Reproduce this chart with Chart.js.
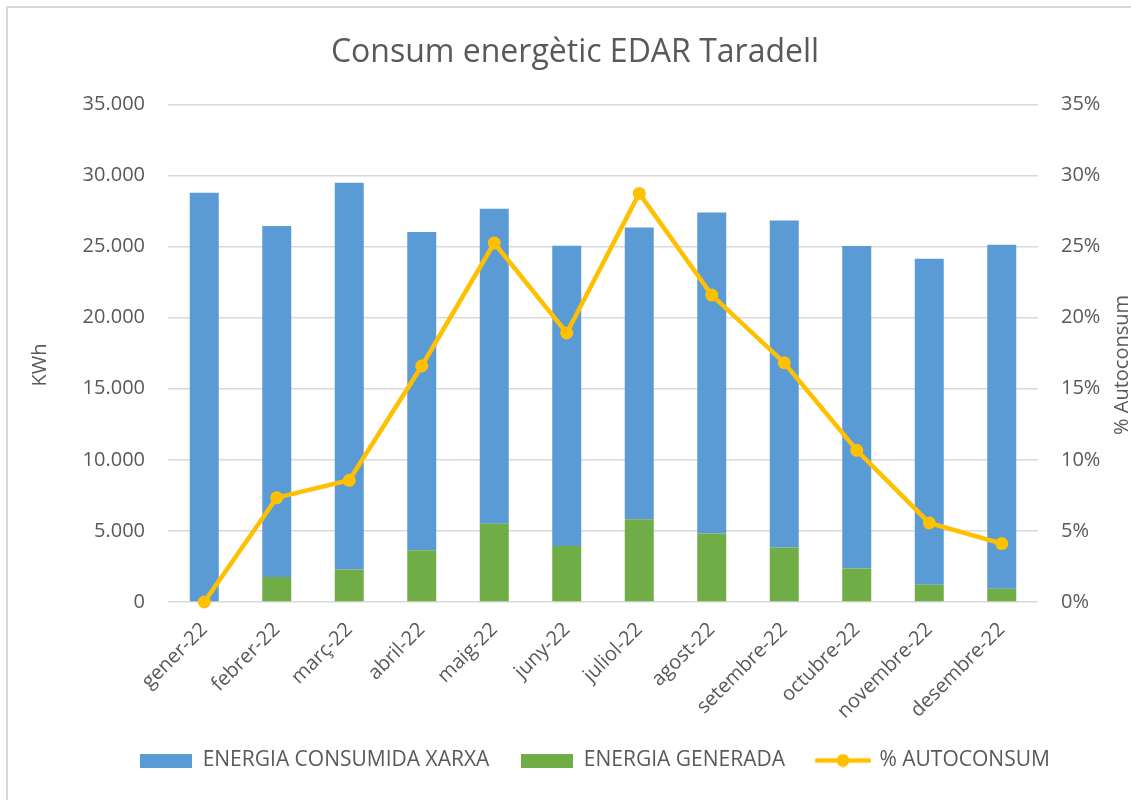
<!DOCTYPE html>
<html>
<head>
<meta charset="utf-8">
<title>Consum energètic EDAR Taradell</title>
<script src="https://cdn.jsdelivr.net/npm/chart.js@4"></script>
<style>
  html, body { margin: 0; padding: 0; background: #fff; overflow: hidden; }
  .frame { position: absolute; left: 6px; top: 6px; width: 1200px; height: 900px; border: 2px solid #d9d9d9; }
  .wrap { position: absolute; left: 0; top: 0; width: 1131px; height: 800px; }
</style>
</head>
<body>
<div class="frame"></div>
<div class="wrap"><canvas id="chart" width="1131" height="800"></canvas></div>
<script>
const months = ['gener-22', 'febrer-22', 'març-22', 'abril-22', 'maig-22', 'juny-22',
  'juliol-22', 'agost-22', 'setembre-22', 'octubre-22', 'novembre-22', 'desembre-22'];
// kWh comprats a la xarxa
const energiaXarxa = [28790, 24680, 27210, 22380, 22150, 21120, 20530, 22590, 23010, 22690, 22930, 24190];
// kWh generats (fotovoltaica)
const energiaGenerada = [0, 1760, 2280, 3640, 5510, 3940, 5820, 4810, 3830, 2350, 1220, 940];
// % autoconsum
const autoconsum = [0, 7.34, 8.56, 16.6, 25.25, 18.92, 28.74, 21.59, 16.83, 10.67, 5.56, 4.11];

const kwhTicks = { min: 0, max: 35000, step: 5000 };
const pctTicks = { min: 0, max: 35, step: 5 };

const BLUE = '#5B9BD5', GREEN = '#70AD47', GOLD = '#FFC000', TXT = '#595959', GRID = '#D9D9D9';
const FONT = '"Open Sans", "Noto Sans", sans-serif';

const thousands = v => String(v).replace(/\B(?=(\d{3})+(?!\d))/g, '.');

// legend swatches
function boxSwatch(color) {
  const c = document.createElement('canvas');
  c.width = 52; c.height = 14;
  const g = c.getContext('2d');
  g.fillStyle = color;
  g.fillRect(0, 0, 52, 14);
  return c;
}
function lineSwatch(color) {
  const c = document.createElement('canvas');
  c.width = 56; c.height = 14;
  const g = c.getContext('2d');
  g.strokeStyle = color; g.lineWidth = 4.5; g.lineCap = 'round';
  g.beginPath(); g.moveTo(2, 7); g.lineTo(54, 7); g.stroke();
  g.fillStyle = color;
  g.beginPath(); g.arc(28, 7, 6.5, 0, Math.PI * 2); g.fill();
  return c;
}
const swatches = [boxSwatch(GREEN), boxSwatch(BLUE), lineSwatch(GOLD)];
const legendRank = [1, 0, 2];

// rotated side titles for both value axes
const sideTitles = {
  id: 'sideTitles',
  afterDraw(chart) {
    const { ctx } = chart;
    const yMid = 365;
    const draw = (text, x) => {
      ctx.save();
      ctx.translate(x, yMid);
      ctx.rotate(-Math.PI / 2);
      ctx.font = '20px ' + FONT;
      ctx.fillStyle = TXT;
      ctx.textAlign = 'center';
      ctx.textBaseline = 'middle';
      ctx.fillText(text, 0, 0);
      ctx.restore();
    };
    draw('KWh', chart.scales.y.left + 21);
    draw('% Autoconsum', chart.scales.y1.right - 9);
  }
};

// nudge the legend row a bit to the right, under the plot
const legendShift = {
  id: 'legendShift',
  afterLayout(chart) {
    chart.legend.left += 20;
    chart.legend.right += 20;
  }
};

new Chart(document.getElementById('chart'), {
  type: 'bar',
  data: {
    labels: months,
    datasets: [
      {
        label: 'ENERGIA GENERADA',
        data: energiaGenerada,
        backgroundColor: GREEN,
        yAxisID: 'y',
        order: 1,
        barPercentage: 0.4,
        categoryPercentage: 1.0
      },
      {
        label: 'ENERGIA CONSUMIDA XARXA',
        data: energiaXarxa,
        backgroundColor: BLUE,
        yAxisID: 'y',
        order: 1,
        barPercentage: 0.4,
        categoryPercentage: 1.0
      },
      {
        type: 'line',
        label: '% AUTOCONSUM',
        data: autoconsum,
        yAxisID: 'y1',
        order: 0,
        borderColor: GOLD,
        backgroundColor: GOLD,
        borderWidth: 4.5,
        pointRadius: 6.5,
        pointBorderWidth: 0,
        pointBackgroundColor: GOLD,
        tension: 0,
        clip: false
      }
    ]
  },
  options: {
    responsive: false,
    animation: false,
    layout: { padding: { left: 19, right: 0, top: 0, bottom: 19 } },
    plugins: {
      title: {
        display: true,
        text: 'Consum energètic EDAR Taradell',
        color: TXT,
        font: { family: FONT, size: 32, weight: 'normal' },
        padding: { top: 34, bottom: 32 }
      },
      legend: {
        position: 'bottom',
        labels: {
          color: TXT,
          font: { family: FONT, size: 21 },
          usePointStyle: true,
          pointStyleWidth: 52,
          boxHeight: 14,
          padding: 32,
          sort: (a, b) => legendRank[a.datasetIndex] - legendRank[b.datasetIndex],
          generateLabels(chart) {
            const items = Chart.defaults.plugins.legend.labels.generateLabels(chart);
            items.forEach(it => { it.pointStyle = swatches[it.datasetIndex]; });
            return items;
          }
        }
      },
      tooltip: { enabled: false }
    },
    scales: {
      x: {
        stacked: true,
        grid: { display: false },
        border: { display: false },
        ticks: {
          color: TXT,
          font: { family: FONT, size: 20 },
          minRotation: 45,
          maxRotation: 45,
          padding: 8
        },
        afterFit(s) { s.height = 116; }
      },
      y: {
        stacked: true,
        position: 'left',
        min: kwhTicks.min,
        max: kwhTicks.max,
        grid: { color: GRID, lineWidth: 1.5, drawTicks: false },
        border: { display: false },
        ticks: {
          stepSize: kwhTicks.step,
          color: TXT,
          padding: 23,
          font: { family: FONT, size: 20 },
          callback: v => thousands(v)
        },
        afterFit(s) { s.width = 168 - 19; }
      },
      y1: {
        position: 'right',
        min: pctTicks.min,
        max: pctTicks.max,
        grid: { display: false, drawTicks: false },
        border: { display: false },
        ticks: {
          stepSize: pctTicks.step,
          color: TXT,
          padding: 23,
          font: { family: FONT, size: 20 },
          callback: v => v + '%'
        },
        afterFit(s) { s.width = 1131 - 1038; }
      }
    }
  },
  plugins: [sideTitles, legendShift]
});
</script>
</body>
</html>
